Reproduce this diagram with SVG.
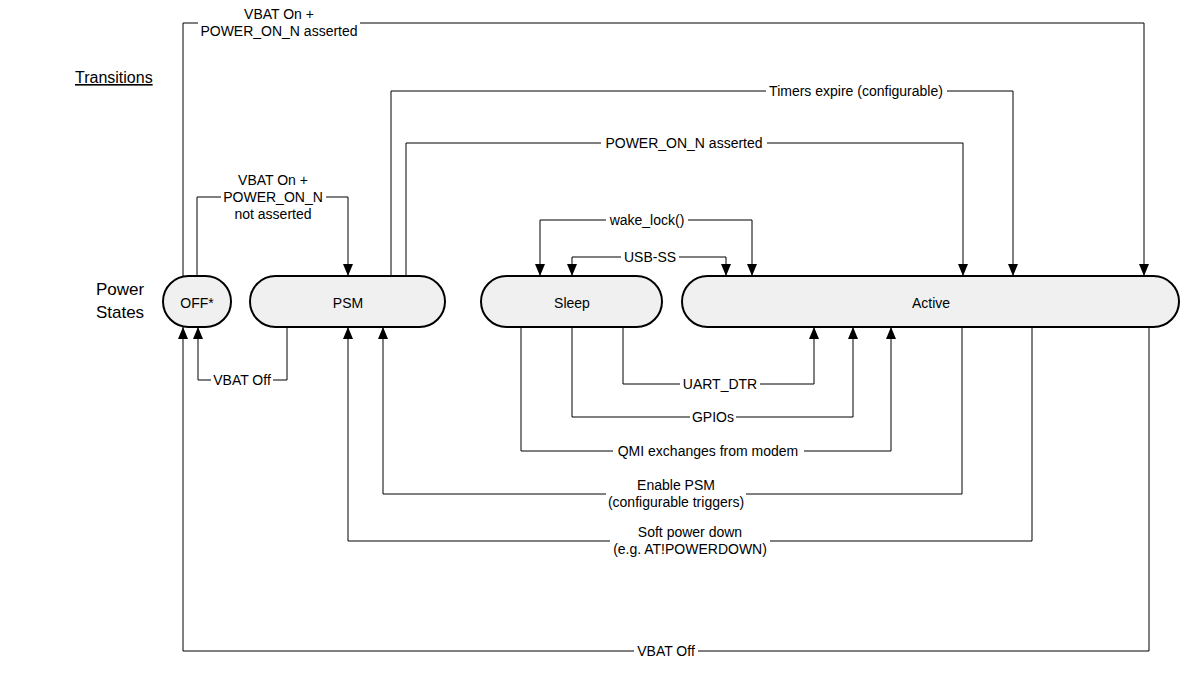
<svg xmlns="http://www.w3.org/2000/svg" width="1184" height="685" viewBox="0 0 1184 685">
<defs>
<marker id="arr" markerUnits="userSpaceOnUse" markerWidth="12" markerHeight="10" refX="12" refY="5" orient="auto-start-reverse" viewBox="0 0 12 10">
<path d="M0,0 L12,5 L0,10 Z" fill="#000"/>
</marker>
<style>
.node{fill:#f0f0f0;stroke:#000;stroke-width:2}
.nt{font-family:"Liberation Sans",Arial,sans-serif;font-size:14px;fill:#000;text-anchor:middle}
.lbl{font-family:"Liberation Sans",Arial,sans-serif;font-size:14px;fill:#000;text-anchor:middle}
.hdr{font-family:"Liberation Sans",Arial,sans-serif;font-size:17px;fill:#000}
.ttl{font-family:"Liberation Sans",Arial,sans-serif;font-size:16px;fill:#000}
.c{fill:none;stroke:#000;stroke-width:1}
.e{marker-end:url(#arr)}
.b{marker-start:url(#arr);marker-end:url(#arr)}
</style>
</defs>
<rect width="1184" height="685" fill="#fff"/>
<text class="ttl" x="75" y="83" text-decoration="underline">Transitions</text>
<text class="hdr" x="120" y="295" text-anchor="middle">Power</text>
<text class="hdr" x="120" y="318" text-anchor="middle">States</text>

<g id="connectors">
<path class="c e" d="M183,276 V23 H198 M360,23 H1144 V276"/>
<path class="c e" d="M197,276 V197 H221 M326,197 H348 V276"/>
<path class="c e" d="M391,276 V91 H766 M947,91 H1013 V276"/>
<path class="c e" d="M406,276 V143 H601 M767,143 H963 V276"/>
<path class="c b" d="M540,276 V220 H606 M688,220 H752 V276"/>
<path class="c b" d="M572,276 V257 H621 M679,257 H726 V276"/>
<path class="c e" d="M623,327 V384 H680 M760,384 H814 V327"/>
<path class="c e" d="M572,327 V417 H690 M736,417 H853 V327"/>
<path class="c e" d="M521,327 V451 H613 M804,451 H891 V327"/>
<path class="c e" d="M962,327 V494 H746 M606,494 H383 V327"/>
<path class="c e" d="M1032,327 V541 H770 M610,541 H348 V327"/>
<path class="c e" d="M1149,327 V651 H698 M634,651 H183 V327"/>
<path class="c e" d="M287,327 V380 H273 M211,380 H198 V327"/>
</g>

<g id="labels">
<text class="lbl" x="279" y="19">VBAT On +</text>
<text class="lbl" x="279" y="36">POWER_ON_N asserted</text>
<text class="lbl" x="273" y="185">VBAT On +</text>
<text class="lbl" x="273" y="202">POWER_ON_N</text>
<text class="lbl" x="273" y="219">not asserted</text>
<text class="lbl" x="856" y="96">Timers expire (configurable)</text>
<text class="lbl" x="684" y="148">POWER_ON_N asserted</text>
<text class="lbl" x="647" y="225">wake_lock()</text>
<text class="lbl" x="650" y="262">USB-SS</text>
<text class="lbl" x="720" y="389">UART_DTR</text>
<text class="lbl" x="713" y="422">GPIOs</text>
<text class="lbl" x="708" y="456">QMI exchanges from modem</text>
<text class="lbl" x="676" y="490">Enable PSM</text>
<text class="lbl" x="676" y="507">(configurable triggers)</text>
<text class="lbl" x="690" y="537">Soft power down</text>
<text class="lbl" x="690" y="554">(e.g. AT!POWERDOWN)</text>
<text class="lbl" x="666" y="656">VBAT Off</text>
<text class="lbl" x="242" y="385">VBAT Off</text>
</g>

<g id="node-off">
<rect class="node" x="163" y="276" width="68" height="51" rx="25.5"/>
<text class="nt" x="197" y="308">OFF*</text>
</g>
<g id="node-psm">
<rect class="node" x="250" y="276" width="195" height="51" rx="25.5"/>
<text class="nt" x="348" y="308">PSM</text>
</g>
<g id="node-sleep">
<rect class="node" x="481" y="276" width="181" height="51" rx="25.5"/>
<text class="nt" x="572" y="308">Sleep</text>
</g>
<g id="node-active">
<rect class="node" x="682" y="276" width="497" height="51" rx="25.5"/>
<text class="nt" x="931" y="308">Active</text>
</g>
</svg>
